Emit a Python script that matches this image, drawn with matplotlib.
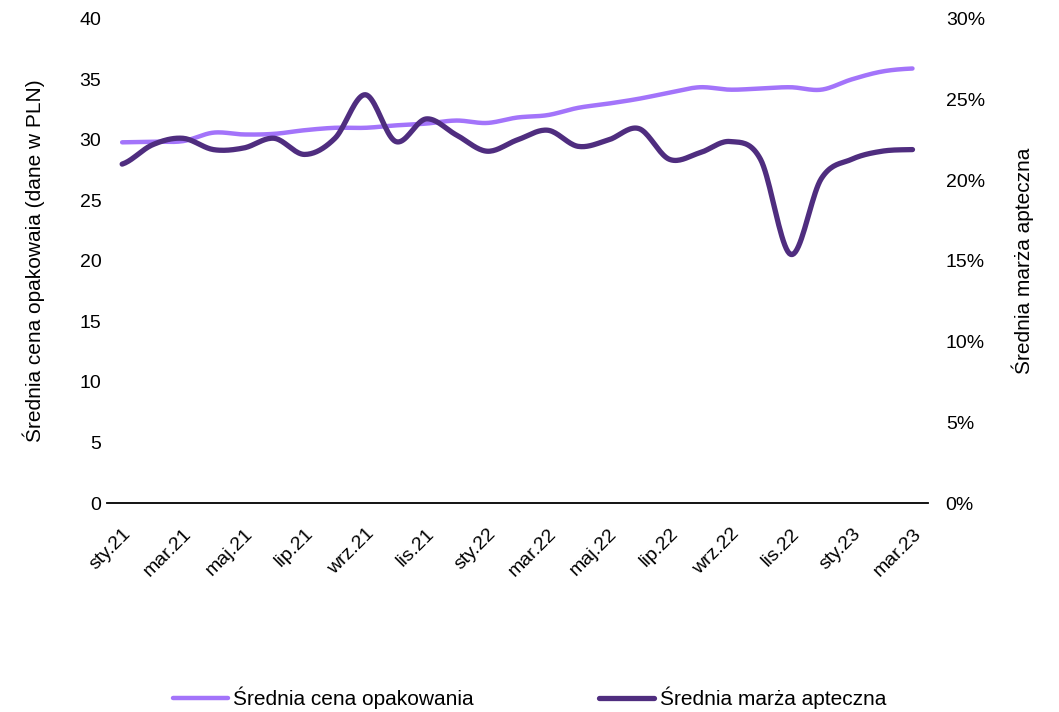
import numpy as np
import matplotlib
matplotlib.use('Agg')
import matplotlib.pyplot as plt
from matplotlib.ticker import FuncFormatter

plt.rcParams['font.family'] = ['Liberation Sans', 'DejaVu Sans']

months = ['sty.21', 'lut.21', 'mar.21', 'kwi.21', 'maj.21', 'cze.21', 'lip.21', 'sie.21', 'wrz.21',
          'paź.21', 'lis.21', 'gru.21', 'sty.22', 'lut.22', 'mar.22', 'kwi.22', 'maj.22', 'cze.22',
          'lip.22', 'sie.22', 'wrz.22', 'paź.22', 'lis.22', 'gru.22', 'sty.23', 'lut.23', 'mar.23']

# srednia cena opakowania (PLN)
price = [29.8, 29.85, 29.9, 30.6, 30.45, 30.5, 30.8, 31.0, 31.0, 31.2, 31.35, 31.6, 31.4, 31.85,
         32.05, 32.65, 33.0, 33.4, 33.9, 34.35, 34.15, 34.25, 34.35, 34.15, 35.0, 35.65, 35.9]

# srednia marza apteczna (%)
margin = [21.0, 22.2, 22.6, 21.9, 22.0, 22.6, 21.6, 22.6, 25.3, 22.4, 23.8, 22.8, 21.8, 22.5,
          23.1, 22.1, 22.5, 23.2, 21.3, 21.7, 22.4, 21.3, 15.4, 20.1, 21.3, 21.8, 21.9]

c_light = '#a374fa'
c_dark = '#4f2d7f'


def smooth(y, n=20):
    # catmull-rom, roughly what excel's "smoothed line" does
    y = np.asarray(y, float)
    p = np.concatenate([[y[0]], y, [y[-1]]])
    xs, ys = [], []
    for i in range(len(y) - 1):
        p0, p1, p2, p3 = p[i], p[i + 1], p[i + 2], p[i + 3]
        t = np.linspace(0, 1, n, endpoint=False)
        v = 0.5 * (2 * p1 + (-p0 + p2) * t + (2 * p0 - 5 * p1 + 4 * p2 - p3) * t ** 2
                   + (-p0 + 3 * p1 - 3 * p2 + p3) * t ** 3)
        xs.append(i + t)
        ys.append(v)
    xs.append([len(y) - 1])
    ys.append([y[-1]])
    return np.concatenate(xs), np.concatenate(ys)


fig = plt.figure(figsize=(10.59, 7.12), dpi=100)
ax = fig.add_axes([0.101, 0.2935, 0.775, 0.68])
ax2 = ax.twinx()

x = np.arange(len(months))
sx, sy = smooth(price)
ax.plot(sx, sy, color=c_light, lw=3.2, solid_capstyle='round', label='Średnia cena opakowania')
mx, my = smooth(margin)
ax2.plot(mx, my, color=c_dark, lw=3.8, solid_capstyle='round', label='Średnia marża apteczna')

ax.set_xlim(-0.5, len(months) - 0.5)
ax.set_ylim(0, 40)
ax2.set_ylim(0, 30)
ax.set_yticks(range(0, 41, 5))
ax2.set_yticks(range(0, 31, 5))
ax2.yaxis.set_major_formatter(FuncFormatter(lambda v, _: f'{v:.0f}%'))

ax.set_xticks(x[::2])
ax.set_xticklabels(months[::2], rotation=45, ha='right', va='top', rotation_mode='anchor')

for a in (ax, ax2):
    for s in ('top', 'left', 'right', 'bottom'):
        a.spines[s].set_visible(False)
    a.tick_params(length=0, labelsize=14, colors='#000000')
ax.spines['bottom'].set_visible(True)
ax.spines['bottom'].set_linewidth(1.3)
ax.tick_params(axis='x', pad=16)
ax.tick_params(axis='y', pad=4)
ax2.tick_params(axis='y', pad=13)

ax.set_ylabel('Średnia cena opakowaia (dane w PLN)', fontsize=15, labelpad=25)
ax2.set_ylabel('Średnia marża apteczna', fontsize=15, labelpad=19)

h1, l1 = ax.get_legend_handles_labels()
h2, l2 = ax2.get_legend_handles_labels()
fig.legend(h1 + h2, l1 + l2, loc='lower center', bbox_to_anchor=(0.5, -0.022), ncol=2,
           frameon=False, fontsize=15, handlelength=2.65, handletextpad=0.25, columnspacing=6)

fig.savefig('out.png', dpi=100)
